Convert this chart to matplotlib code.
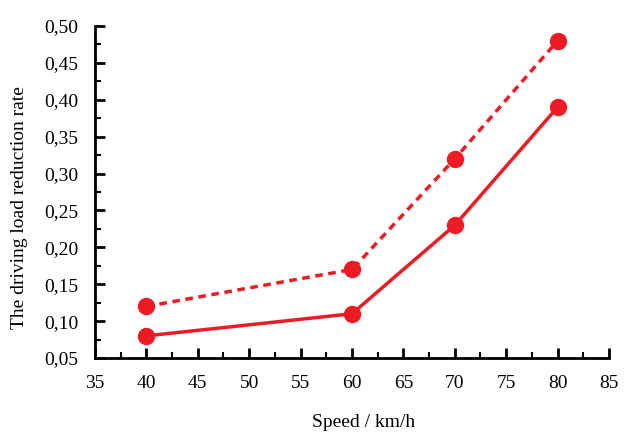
import matplotlib
matplotlib.use("Agg")
import matplotlib.pyplot as plt
from matplotlib.ticker import MultipleLocator, FuncFormatter

speed = [40, 60, 70, 80]
dashed_series = [0.12, 0.17, 0.32, 0.48]
solid_series = [0.08, 0.11, 0.23, 0.39]
red = "#ed1c24"

plt.rcParams['font.family'] = ['Liberation Serif', 'DejaVu Serif']

fig = plt.figure(figsize=(6.24, 4.33), dpi=100)
ax = fig.add_axes([95/624, 1-358/433, (609-95)/624, (358-26)/433])

ax.plot(speed, dashed_series, color=red, lw=2.5, ls=(0, (2.2, 1.6)), marker='o', ms=11.5)
ax.plot(speed, solid_series, color=red, lw=2.5, marker='o', ms=11.5)

ax.set_xlim(35, 85)
ax.set_ylim(0.05, 0.50)
ax.xaxis.set_major_locator(MultipleLocator(5))
ax.xaxis.set_minor_locator(MultipleLocator(2.5))
ax.yaxis.set_major_locator(MultipleLocator(0.05))
ax.yaxis.set_minor_locator(MultipleLocator(0.025))
ax.yaxis.set_major_formatter(FuncFormatter(lambda v, p: f"{v:.2f}".replace('.', ',')))

for s in ['top', 'right']:
    ax.spines[s].set_visible(False)
for s in ['left', 'bottom']:
    ax.spines[s].set_linewidth(2)
ax.tick_params(which='major', direction='in', length=7, width=2, labelsize=14, pad=12)
ax.tick_params(which='minor', direction='in', length=4, width=1.5)

ax.set_xlabel("Speed / km/h", fontsize=14)
ax.xaxis.set_label_coords((364-95)/514, (358-427)/332)
ax.xaxis.label.set_va('baseline')
ax.set_ylabel("The driving load reduction rate", fontsize=14)
ax.yaxis.set_label_coords((20-95)/514, (358-208)/332)
ax.yaxis.label.set_va('center')
ax.yaxis.label.set_ha('center')

fig.savefig("out.png", dpi=100)
